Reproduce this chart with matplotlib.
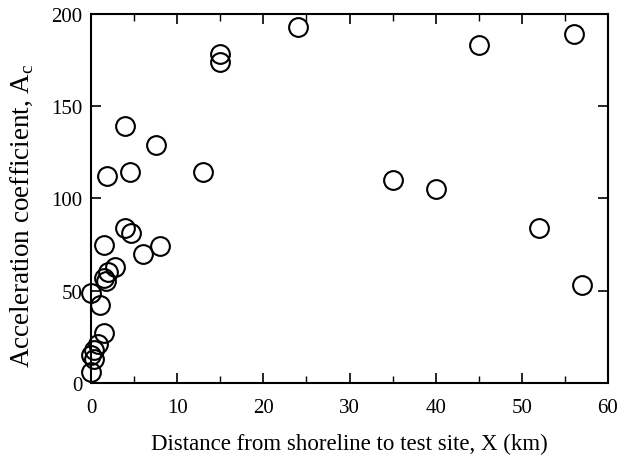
import matplotlib
matplotlib.use("Agg")
import matplotlib.pyplot as plt
from matplotlib.ticker import MultipleLocator

plt.rcParams['font.family'] = ['Liberation Serif', 'DejaVu Serif']
plt.rcParams['mathtext.fontset'] = 'custom'
plt.rcParams['mathtext.rm'] = 'Liberation Serif'

distance_km = [24, 15, 15, 45, 56, 3.9, 7.6, 1.8, 4.5, 13, 35, 40, 52, 57,
               3.9, 4.7, 1.5, 8, 6, 2.8, 2.0, 1.5, 1.7, 0, 1.0, 1.5,
               0.8, 0.3, 0.0, 0.4, 0.0]
accel_coef = [193, 178, 174, 183, 189, 139, 129, 112, 114, 114, 110, 105, 84, 53,
              84, 81, 75, 74, 70, 63, 60, 57, 55, 49, 42, 27,
              21, 18, 15, 13, 6]

x_ticks = [0, 10, 20, 30, 40, 50, 60]
y_ticks = [0, 50, 100, 150, 200]

fig = plt.figure(figsize=(6.29, 4.60), dpi=100)
ax = fig.add_axes([91/629, 1-384/460, (608-91)/629, (384-14.7)/460])

ax.plot(distance_km, accel_coef, linestyle='none', marker='o', markersize=13.5,
        markerfacecolor='none', markeredgecolor='black', markeredgewidth=1.5,
        clip_on=False)

ax.set_xlim(0, 60)
ax.set_ylim(0, 200)
ax.set_xticks(x_ticks)
ax.set_yticks(y_ticks)
ax.xaxis.set_minor_locator(MultipleLocator(5))
ax.tick_params(which='both', direction='in', top=True, right=True, labelsize=15)
ax.tick_params(which='major', length=7.5, width=1.2)
ax.tick_params(which='minor', length=5, width=1.0)
ax.tick_params(axis='x', pad=11)
ax.tick_params(axis='y', pad=6)
for s in ax.spines.values():
    s.set_linewidth(1.5)

ax.set_xlabel('Distance from shoreline to test site, X (km)', fontsize=16.5, labelpad=11)
ax.set_ylabel(r'Acceleration coefficient, A$_\mathregular{c}$', fontsize=19.5)
ax.yaxis.set_label_coords(-0.108, 0.455)

fig.savefig('out.png', dpi=100)
